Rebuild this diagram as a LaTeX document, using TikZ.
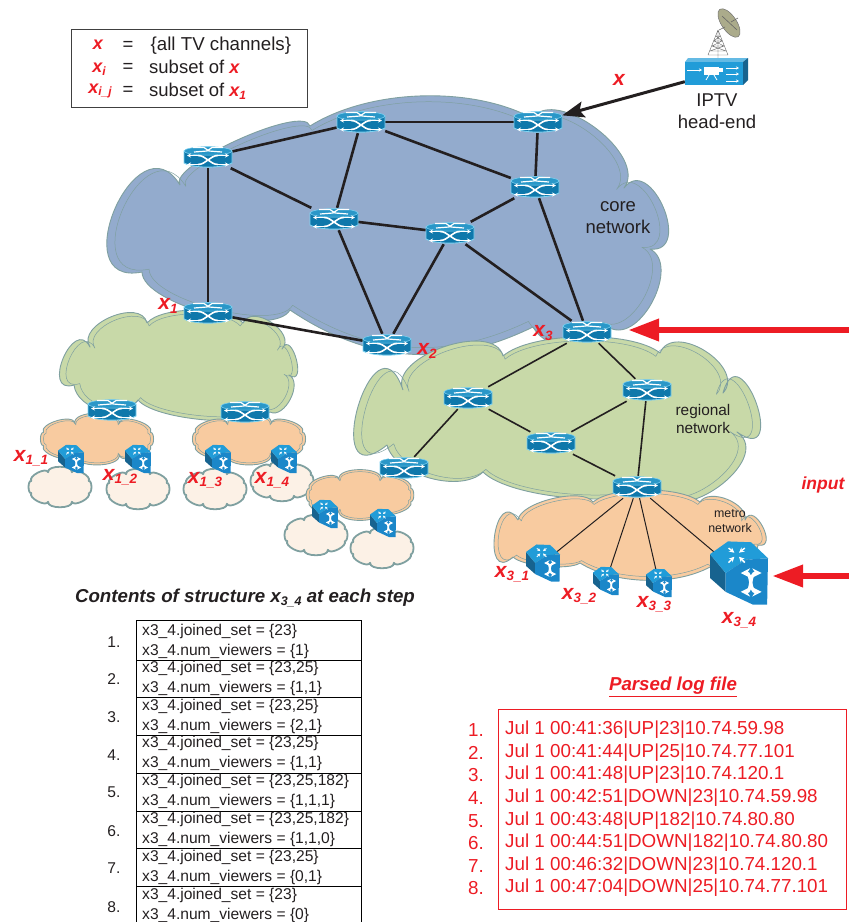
\documentclass[tikz,border=0pt]{standalone}
\usepackage{fontspec}
\setmainfont{Liberation Sans}
\usetikzlibrary{arrows.meta}
\definecolor{redc}{HTML}{ED1C24}
\definecolor{ink}{HTML}{231F20}
\definecolor{coreblue}{HTML}{93ABCD}
\definecolor{regiongreen}{HTML}{C8D9A8}
\definecolor{metroorange}{HTML}{F8CBA0}
\definecolor{cream}{HTML}{FCF1E6}
\definecolor{cloudedge}{HTML}{7FA0A0}
\definecolor{routerfront}{HTML}{0F78AB}
\definecolor{routertop}{HTML}{2A97C8}
\definecolor{routeredge}{HTML}{7FD3F2}
\definecolor{swtop}{HTML}{219CD8}
\definecolor{swfront}{HTML}{1B87C9}
\definecolor{swleft}{HTML}{17638F}
\definecolor{dish}{HTML}{ABAB8B}
\newcommand\fsz[2]{\fontsize{#1}{#2}\selectfont}
\newcommand\xlbl[2]{{\bfseries\itshape\color{redc}\fsz{21}{21}x\raisebox{-.3ex}{\fsz{13.5}{14}#2}}}
\newcommand\xleg[1]{{\bfseries\itshape\color{redc}\fsz{18}{18}x\raisebox{-.3ex}{\fsz{12}{12}#1}}}
\newcommand\netcloud[7]{%
  \path[fill=#5,draw=cloudedge,line width=.9,line join=round] #6 \foreach \u/\v/\b/\l in {#7} {to[bend left=\b,looseness=\l] (\u,\v)};
  \begin{scope}[shift={(#1,#2)},xscale=#3,yscale=#4,shift={(-#1,-#2)}]
  \path[draw=cloudedge,line width=.5,line join=round] #6 \foreach \u/\v/\b/\l in {#7} {to[bend left=\b,looseness=\l] (\u,\v)};
  \end{scope}}
\newcommand\ecloud[7]{%
  \path[fill=#5,draw=cloudedge,line width=#6,line join=round] ({#1+#3*cos(22.5)},{#2+#4*sin(22.5)})
    \foreach \a in {67.5,112.5,157.5,202.5,247.5,292.5,337.5,382.5} {to[bend left=100,looseness=#7] ({#1+#3*cos(\a)},{#2+#4*sin(\a)})};}
\newcommand\ecloudinner[4]{%
  \path[draw=cloudedge,line width=.5,line join=round] ({#1+#3*.95*cos(22.5)},{#2+#4*.9*sin(22.5)})
    \foreach \a in {67.5,112.5,157.5,202.5,247.5,292.5,337.5,382.5} {to[bend left=100,looseness=.8] ({#1+#3*.95*cos(\a)},{#2+#4*.9*sin(\a)})};}
\newcommand\swicon[2]{%
  \begin{scope}[shift={(#1.center)},scale=#2]
  \pgfmathsetmacro\lw{#2*.11}
  \pgfmathsetmacro\lwt{#2*.05}
  \pgfmathsetmacro\tp{#2*.32}
  \pgfmathsetmacro\tq{#2*.18}
  \fill[swleft] (-1,-.65) -- (-.46,0) -- (-.46,.65) -- (-1,.17) -- cycle;
  \fill[swtop] (-1,-.65) -- (-.38,-1.09) -- (.42,-1.06) -- (1,-.51) -- (.25,-.46) -- (-.46,0) -- cycle;
  \fill[swfront] (-.46,0) -- (.25,-.46) -- (1,-.51) -- (.97,1.09) -- (.48,1.09) -- (-.46,.65) -- cycle;
  \draw[white,line width=\lw pt,{Stealth[length=\tp pt,width=\tp pt]}-{Stealth[length=\tp pt,width=\tp pt]}]
     (.06,0) .. controls (.45,0) and (.35,.65) .. (.78,.65);
  \draw[white,line width=\lw pt,{Stealth[length=\tp pt,width=\tp pt]}-{Stealth[length=\tp pt,width=\tp pt]}]
     (.78,0) .. controls (.35,0) and (.45,.65) .. (.06,.65);
  \foreach \ax/\ay/\bx/\by in {-.36/-.86/-.16/-.7, .2/-.86/0/-.7, -.36/-.36/-.16/-.56, .2/-.36/0/-.56}
    \draw[white,line width=\lwt pt,-{Stealth[length=\tq pt,width=\tq pt]}] (\ax,\ay) -- (\bx,\by);
  \end{scope}}
\tikzset{
  x=1pt,y=-1pt,
  routerbox/.style={minimum width=48,minimum height=22,inner sep=0},
  swbox/.style={minimum size=#1,inner sep=0},
  coreline/.style={draw=ink,line width=2.6},
  regionline/.style={draw=ink,line width=1.6},
  metroline/.style={draw=ink,line width=1},
  plaintext/.style={font=\fsz{18.5}{22},text=ink,align=center,inner sep=0},
  loglabel/.style={font=\fsz{18.8}{20},text=redc,anchor=west,inner sep=0},
  rownum/.style={font=\fsz{15.6}{18},text=ink,inner sep=0},
  rowtext/.style={font=\fsz{15.6}{20},text=ink,anchor=west,align=left,inner sep=0},
  xtag/.style={inner sep=0},
  bigred/.style={draw=redc,line width=6.5,-{Triangle[length=31pt,width=21pt]}},
  routerpic/.pic={
    \path[draw=routeredge,line width=.9,fill=routerfront] (-24,-6) -- (-24,6) .. controls (-14,11.5) and (14,11.5) .. (24,6) -- (24,-6) .. controls (14,-11.5) and (-14,-11.5) .. (-24,-6) -- cycle;
    \draw[draw=routeredge,line width=.5,fill=routertop] (0,-6) ellipse [x radius=24,y radius=4.2];
    \draw[white,line width=1.6] (-10,-1.5) .. controls (-2,-1.5) and (2,7.5) .. (10,7.5);
    \draw[white,line width=1.6] (-10,7.5) .. controls (-2,7.5) and (2,-1.5) .. (10,-1.5);
    \draw[white,line width=1.1,-{Stealth[length=4pt,width=4pt]}] (-10,-1.5) -- (-21,-1.5);
    \draw[white,line width=1.1,-{Stealth[length=4pt,width=4pt]}] (-10,7.5) -- (-21,7.5);
    \draw[white,line width=1.1,-{Stealth[length=4pt,width=4pt]}] (10,-1.5) -- (21,-1.5);
    \draw[white,line width=1.1,-{Stealth[length=4pt,width=4pt]}] (10,7.5) -- (21,7.5);
    \draw[white,line width=1.2] (-15,-9.5) -- (-4,-9.5) -- (1,-6) -- (14,-5) (15,-9.5) -- (4,-9.5) -- (-1,-6) -- (-14,-5);
  }
}
\begin{document}
\begin{tikzpicture}
\useasboundingbox (0,0) rectangle (849,922);
% small customer clouds
\ecloud{60}{487}{31}{16}{cream}{1.8}{.8}
\ecloud{138}{489}{31}{16}{cream}{1.8}{.8}
\ecloud{215}{489}{31}{16}{cream}{1.8}{.8}
\ecloud{282}{481}{31}{16}{cream}{1.8}{.8}
\ecloud{316}{535}{31}{16}{cream}{1.8}{.8}
\ecloud{382}{548}{31}{16}{cream}{1.8}{.8}
% core
\netcloud{378}{215}{.97}{.95}{coreblue}{(180,185)}{310/126/100/.42,532/118/30/.8,624/188/90/.9,650/249/120/1.7,610/328/90/1,533/327/60/1,290/310/30/1,142/272/75/.55,180/185/125/2.2}
% regional
\netcloud{190}{365}{.95}{.93}{regiongreen}{(147,323)}{243/323/50/.6,282/349/100/1.2,289/375/140/2.2,270/412/90/1,138/400/45/.5,74/385/70/1,90/347/130/2.2,147/323/100/1.1}
\netcloud{555}{420}{.96}{.95}{regiongreen}{(403,390)}{503/356/95/.9,660/353/40/.6,723/393/100/1.2,737/432/145/4,660/487/110/1.3,483/472/40/.55,387/445/60/.8,403/390/145/4}
% metro
\ecloud{97}{439}{58}{17}{metroorange}{.9}{.8}\ecloudinner{97}{439}{58}{17}
\ecloud{249}{439}{58}{17}{metroorange}{.9}{.8}\ecloudinner{249}{439}{58}{17}
\ecloud{360}{495}{55}{17}{metroorange}{.9}{.8}\ecloudinner{360}{495}{55}{17}
\netcloud{630}{533}{.97}{.92}{metroorange}{(518,520)}{593/502/70/.6,700/502/40/.6,745/520/80/.9,758/545/130/2,710/567/60/.8,580/563/30/.8,513/557/40/.5,518/520/140/3}

% anchors for routers and switches
\foreach \n/\x/\y in {ra/208/157,rb/361/122,rtr/538/122,rr/535/187,rc/334/219,rm/450/233,rx/208/313,rxb/387/345,rxc/587/332,rg/468/398,rh/647/390,ri/551/443,rj/404/468,rk/637/487,rl/112/410,rn/245/412}
  \node[routerbox] (\n) at (\x,\y) {};
\foreach \n/\x/\y/\s in {sa/71/459/13,sb/138/459/13,sc/218/459/13,sd/284/459/13,se/325/514/13,sf/383/523/13,sg/543/563/17,sh/606/581/13,si/659/583/13,sj/739/573/29}
  \node[swbox=\s] (\n) at (\x,\y) {};
\node[minimum width=63,minimum height=27,inner sep=0] (he) at (716.5,73) {};

% connectors
\foreach \a/\b in {ra/rb,ra/rc,ra/rx,rb/rc,rb/rtr,rb/rr,rtr/rr,rr/rm,rr/rxc,rc/rm,rc/rxb,rm/rxb,rm/rxc,rx/rxb}
  \draw[coreline] (\a) -- (\b);
\foreach \a/\b in {rxc/rg,rxc/rh,rg/ri,rg/rj,rh/ri,rh/rk,ri/rk}
  \draw[regionline] (\a) -- (\b);
\foreach \b in {sg,sh,si,sj}
  \draw[metroline] (rk) -- (\b);
\draw[draw=ink,line width=3,-{Stealth[length=22pt,width=16pt,inset=4pt]}] (he) -- (rtr);

% icons
\foreach \n in {ra,rb,rtr,rr,rc,rm,rx,rxb,rxc,rg,rh,ri,rj,rk,rl,rn}
  \pic at (\n.center) {routerpic};
\swicon{sa}{13}\swicon{sb}{13}\swicon{sc}{13}\swicon{sd}{13}\swicon{se}{13}\swicon{sf}{13}
\swicon{sg}{17}\swicon{sh}{13}\swicon{si}{13}\swicon{sj}{29}

% head-end
\draw[black!60,line width=.4] (718,30) -- (708,55) (718,30) -- (728,55) (718,30) -- (718,58)
  (716,36) -- (720,36) (714,41) -- (722,41) (712,46) -- (724,46) (710,51) -- (726,51) (708,55) -- (728,55)
  (714,41) -- (720,36) (722,41) -- (716,36) (712,46) -- (722,41) (724,46) -- (714,41) (710,51) -- (724,46) (726,51) -- (712,46);
\draw[fill=dish,draw=black!55,line width=.5,rotate around={-56:(729,23)}] (729,23) ellipse [x radius=16.5,y radius=7.5];
\draw[black!60,line width=.6] (719,30) -- (725,27) (722,16) -- (737,30) (731,22) -- (738,18);
\fill[swtop!70!white] (685,62) -- (688,58) -- (748,58) -- (743,62) -- cycle;
\fill[swleft] (743,62) -- (748,58) -- (748,80) -- (743,85) -- cycle;
\fill[swtop] (685,62) rectangle (743,85);
\draw[white,line width=.7,-{Stealth[length=3pt,width=3pt]}] (687,70) -- (702,70);
\fill[white] (704,67) rectangle (719,75);
\fill[white] (719,68) rectangle (723,72);
\draw[white,line width=.8] (709,75) -- (706,80) (714,75) -- (717,80);
\draw[white,line width=.7,-{Stealth[length=3pt,width=3pt]}] (726,68) -- (739,68);
\draw[white,line width=.7,-{Stealth[length=3pt,width=3pt]}] (726,74) -- (739,74);
\draw[white,line width=.7,-{Stealth[length=3pt,width=3pt]}] (726,81) -- (739,81);
\node[plaintext] (hetxt) at (717,111) {IPTV\\[0pt]head-end};
\node[xtag] (xin) at (619,82) {\xlbl{x}{}};

% legend
\draw[draw=black!75,line width=.8] (71,29) rectangle (307,107);
\node[xtag] (la) at (98,46) {\xleg{}};
\node[xtag] (lb) at (99,69) {\xleg{i}};
\node[xtag] (lc) at (100,91) {\xleg{i\_j}};
\foreach \n/\y in {ea/46,eb/68,ec/91}
  \node[plaintext] (\n) at (128,\y) {=};
\node[plaintext,anchor=west,font=\fsz{18.7}{22}] (ta) at (150.5,46) {\{all TV channels\}};
\node[plaintext,anchor=west] (tb) at (149,68) {subset of \xleg{}};
\node[plaintext,anchor=west] (tc) at (149,91) {subset of \xleg{1}};

% network text
\node[plaintext] (core) at (618,218) {core\\network};
\node[font=\fsz{15.4}{18},text=ink,align=center,inner sep=0] (reg) at (703,419) {regional\\network};
\node[font=\fsz{12.4}{15},text=ink,align=center,inner sep=0] (met) at (730,521) {metro\\network};

% tags
\node[xtag] (t1) at (168,306) {\xlbl{}{1}};
\node[xtag] (t2) at (427,351) {\xlbl{}{2}};
\node[xtag] (t3) at (543,333) {\xlbl{}{3}};
\node[xtag] (t11) at (31,458) {\xlbl{}{1\_1}};
\node[xtag] (t12) at (120,477) {\xlbl{}{1\_2}};
\node[xtag] (t13) at (205,480) {\xlbl{}{1\_3}};
\node[xtag] (t14) at (272,480) {\xlbl{}{1\_4}};
\node[xtag] (t31) at (512,574) {\xlbl{}{3\_1}};
\node[xtag] (t32) at (579,596) {\xlbl{}{3\_2}};
\node[xtag] (t33) at (654,604) {\xlbl{}{3\_3}};
\node[xtag] (t34) at (739,620) {\xlbl{}{3\_4}};

% inputs
\coordinate (ina) at (849,330);
\coordinate (inb) at (849,576);
\coordinate (tipa) at (628,330);
\coordinate (tipb) at (772,576);
\draw[bigred] (ina) -- (tipa);
\draw[bigred] (inb) -- (tipb);
\node[font=\fsz{17.5}{18}\bfseries\itshape,text=redc,inner sep=0] (inp) at (823,485) {input};

% table
\node[font=\fsz{18.7}{20}\bfseries\itshape,text=ink,inner sep=0] (ttl) at (245,598) {Contents of structure x\raisebox{-.3ex}{\fsz{12.5}{12}3\_4} at each step};
\draw[black,line width=.8] (136,922) -- (136,620) -- (361,620) -- (361,922);
\foreach \y in {660,697,735,773,811,848,886}
  \draw[black,line width=.8] (136,\y) -- (361,\y);
\foreach \n/\y in {1/642,2/679,3/717,4/755,5/792,6/831,7/868,8/907}
  \node[rownum] (num\n) at (114,\y) {\n.};
\node[rowtext] (ro1) at (142,641) {x3\_4.joined\_set = \{23\}\\x3\_4.num\_viewers = \{1\}};
\node[rowtext] (ro2) at (142,678) {x3\_4.joined\_set = \{23,25\}\\x3\_4.num\_viewers = \{1,1\}};
\node[rowtext] (ro3) at (142,716) {x3\_4.joined\_set = \{23,25\}\\x3\_4.num\_viewers = \{2,1\}};
\node[rowtext] (ro4) at (142,753) {x3\_4.joined\_set = \{23,25\}\\x3\_4.num\_viewers = \{1,1\}};
\node[rowtext] (ro5) at (142,791) {x3\_4.joined\_set = \{23,25,182\}\\x3\_4.num\_viewers = \{1,1,1\}};
\node[rowtext] (ro6) at (142,829) {x3\_4.joined\_set = \{23,25,182\}\\x3\_4.num\_viewers = \{1,1,0\}};
\node[rowtext] (ro7) at (142,867) {x3\_4.joined\_set = \{23,25\}\\x3\_4.num\_viewers = \{0,1\}};
\node[rowtext] (ro8) at (142,905) {x3\_4.joined\_set = \{23\}\\x3\_4.num\_viewers = \{0\}};

% log
\node[font=\fsz{18.7}{20}\bfseries\itshape,text=redc,inner sep=0] (ltt) at (673,687) {\underline{Parsed log file}};
\draw[draw=redc,line width=.8] (498,709) rectangle (846,909);
\foreach \n/\y in {1/730,2/753,3/775,4/798,5/821,6/843,7/866,8/888}
  \node[font=\fsz{18.8}{20},text=redc,inner sep=0] (lgn\n) at (476,\y) {\n.};
\foreach \n/\y/\t in {1/730/{Jul 1 00:41:36|UP|23|10.74.59.98},2/753/{Jul 1 00:41:44|UP|25|10.74.77.101},3/775/{Jul 1 00:41:48|UP|23|10.74.120.1},4/798/{Jul 1 00:42:51|DOWN|23|10.74.59.98},5/821/{Jul 1 00:43:48|UP|182|10.74.80.80},6/843/{Jul 1 00:44:51|DOWN|182|10.74.80.80},7/866/{Jul 1 00:46:32|DOWN|23|10.74.120.1},8/888/{Jul 1 00:47:04|DOWN|25|10.74.77.101}}
  \node[loglabel] (lg\n) at (505,\y) {\t};
\end{tikzpicture}
\end{document}
